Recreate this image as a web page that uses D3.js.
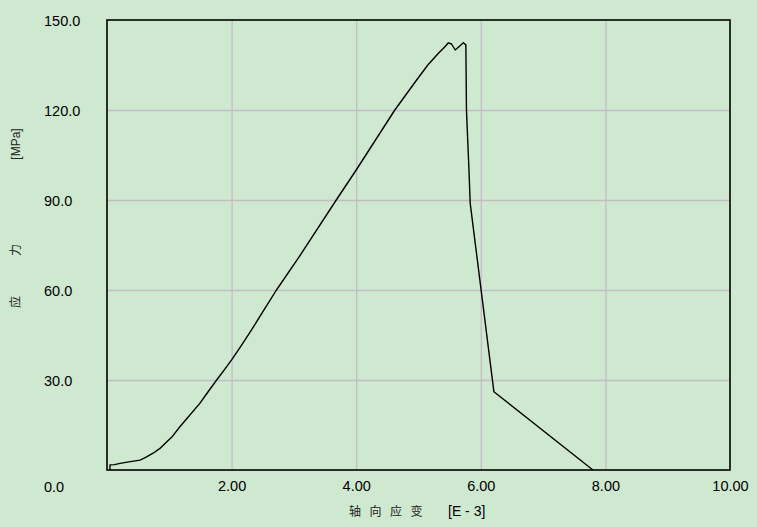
<!DOCTYPE html>
<html>
<head>
<meta charset="utf-8">
<script src="https://cdn.jsdelivr.net/npm/d3@7"></script>
<style>
  html, body { margin: 0; padding: 0; background: #cfe8d0; }
  svg { display: block; }
</style>
</head>
<body>
<div id="chart"></div>
<script>
"use strict";
// strain [E-3] and stress [MPa]
const strain = [0.048, 0.048, 0.12, 0.21, 0.35, 0.53, 0.62, 0.74, 0.85, 0.96, 1.05, 1.17, 1.30, 1.49, 1.62, 1.76, 1.88, 2.00, 2.15, 2.32, 2.50, 2.72, 3.07, 3.68, 4.00, 4.62, 4.97, 5.15, 5.32, 5.42, 5.48, 5.53, 5.59, 5.64, 5.72, 5.76, 5.77, 5.81, 5.83, 6.21, 7.80]
const stress = [0, 1.7, 1.8, 2.2, 2.7, 3.3, 4.2, 5.6, 7.2, 9.4, 11.2, 14.4, 17.6, 22.2, 26.0, 30.0, 33.3, 36.7, 41.3, 46.7, 52.7, 60.0, 70.6, 90.0, 100.0, 120.0, 130.0, 135.0, 138.9, 141.0, 142.4, 142.0, 140.0, 140.9, 142.4, 141.7, 120.0, 100.0, 88.9, 26.1, 0]
const xTicks = [2, 4, 6, 8, 10]
const yTicks = [0, 30, 60, 90, 120, 150]

const measurements = { width: 757, height: 527, left: 107, right: 730, top: 20, bottom: 470 }

const svg = d3.select("#chart").append("svg")
    .attr("width", measurements.width)
    .attr("height", measurements.height)

svg.append("rect")
    .attr("width", measurements.width)
    .attr("height", measurements.height)
    .attr("fill", "#cfe8d0")

const x = d3.scaleLinear().domain([0, 10]).range([measurements.left, measurements.right])
const y = d3.scaleLinear().domain([0, 150]).range([measurements.bottom, measurements.top])

// grid lines
svg.append("g")
    .attr("transform", "translate(0," + measurements.bottom + ")")
    .call(d3.axisBottom(x).tickValues(xTicks.slice(0, -1)).tickSize(-(measurements.bottom - measurements.top)).tickFormat(""))
    .call(g => g.select(".domain").remove())
    .selectAll("line").attr("stroke", "#c3bcc5").attr("stroke-width", 1.3)

svg.append("g")
    .attr("transform", "translate(" + measurements.left + ",0)")
    .call(d3.axisLeft(y).tickValues(yTicks.slice(1, -1)).tickSize(-(measurements.right - measurements.left)).tickFormat(""))
    .call(g => g.select(".domain").remove())
    .selectAll("line").attr("stroke", "#c3bcc5").attr("stroke-width", 1.3)

// tick labels
const xAxis = svg.append("g")
    .attr("transform", "translate(0," + measurements.bottom + ")")
    .call(d3.axisBottom(x).tickValues(xTicks).tickSize(0).tickPadding(11).tickFormat(d3.format(".2f")))
xAxis.select(".domain").remove()
xAxis.selectAll("text").attr("font-family", "Liberation Sans, Arial, sans-serif").attr("font-size", 14.5).attr("fill", "#000")

const yAxis = svg.append("g")
    .attr("transform", "translate(44,0)")
    .call(d3.axisLeft(y).tickValues(yTicks).tickSize(0).tickPadding(0).tickFormat(d3.format(".1f")))
yAxis.select(".domain").remove()
yAxis.selectAll("text")
    .attr("font-family", "Liberation Sans, Arial, sans-serif")
    .attr("font-size", 14.5)
    .attr("fill", "#000")
    .attr("text-anchor", "start")
    .attr("x", 0)
    .attr("dy", d => d === 0 ? "1.45em" : "0.35em")

// plot frame
svg.append("rect")
    .attr("x", measurements.left)
    .attr("y", measurements.top)
    .attr("width", measurements.right - measurements.left)
    .attr("height", measurements.bottom - measurements.top)
    .attr("fill", "none")
    .attr("stroke", "#000")
    .attr("stroke-width", 1.6)

// curve
const pts = strain.map((s, i) => [s, stress[i]])
svg.append("path")
    .datum(pts)
    .attr("fill", "none")
    .attr("stroke", "#000")
    .attr("stroke-width", 1.4)
    .attr("stroke-linejoin", "round")
    .attr("d", d3.line().x(d => x(d[0])).y(d => y(d[1])))

// axis titles
const cjk = "Noto Sans CJK SC, sans-serif"
svg.append("text")
    .attr("x", 349)
    .attr("y", 516)
    .attr("font-family", cjk)
    .attr("font-size", 12)
    .attr("letter-spacing", "8.5px")
    .attr("fill", "#222")
    .text("轴向应变")
svg.append("text")
    .attr("x", 448)
    .attr("y", 516)
    .attr("font-family", "Liberation Sans, Arial, sans-serif")
    .attr("font-size", 14)
    .attr("fill", "#000")
    .text("[E - 3]")

const yTitle = [["[MPa]", 144, "Liberation Sans, Arial, sans-serif"], ["力", 250, cjk], ["应", 302, cjk]]
yTitle.forEach(t => {
    svg.append("text")
        .attr("transform", "translate(20," + t[1] + ") rotate(-90)")
        .attr("text-anchor", "middle")
        .attr("font-family", t[2])
        .attr("font-size", 12)
        .attr("fill", "#222")
        .text(t[0])
})
</script>
</body>
</html>
